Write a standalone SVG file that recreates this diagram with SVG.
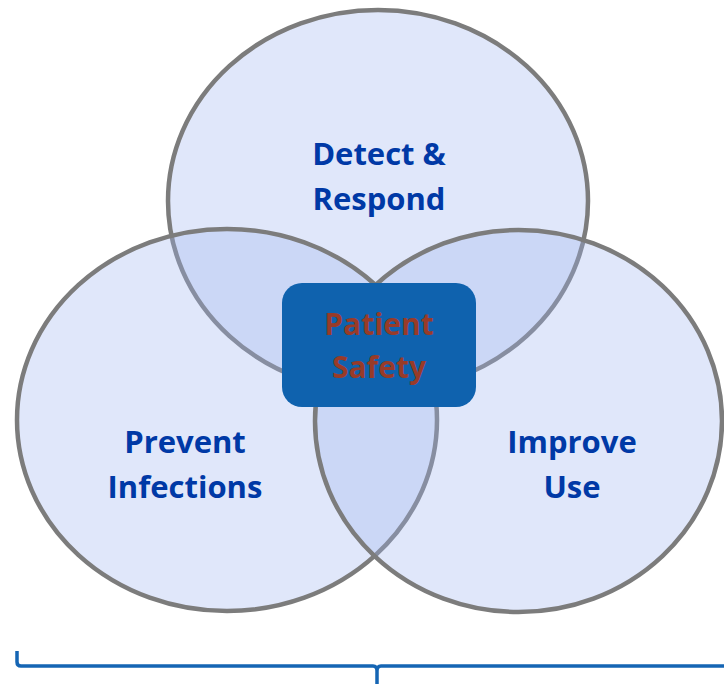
<svg xmlns="http://www.w3.org/2000/svg" width="724" height="684" viewBox="0 0 724 684">
<style>
.circ{fill:#9FB4EF;fill-opacity:0.32;stroke:#7C7C7C;stroke-width:4.5}
.lbl{font-family:"Open Sans","Liberation Sans",sans-serif;font-weight:bold;font-size:31px;fill:#0039A6;text-anchor:middle}
.ctr{font-family:"Open Sans","Liberation Sans",sans-serif;font-weight:bold;font-size:30px;fill:#983B29;text-anchor:middle}
.brace{fill:none;stroke:#1565B4;stroke-width:3.5;stroke-linejoin:round}
</style>
<rect width="724" height="684" fill="#FFFFFF"/>
<g id="detect-respond">
<ellipse class="circ" cx="378" cy="201" rx="210" ry="191"/>
<text class="lbl" x="379" y="165">Detect &amp;</text>
<text class="lbl" x="379" y="210">Respond</text>
</g>
<g id="prevent-infections">
<ellipse class="circ" cx="227" cy="420" rx="210" ry="191"/>
<text class="lbl" x="185" y="453">Prevent</text>
<text class="lbl" x="185" y="498">Infections</text>
</g>
<g id="improve-use">
<ellipse class="circ" cx="518.5" cy="421" rx="203.5" ry="191"/>
<text class="lbl" x="572" y="453">Improve</text>
<text class="lbl" x="572" y="498">Use</text>
</g>
<g id="patient-safety">
<rect x="282" y="283" width="194" height="124" rx="20" ry="20" fill="#0F62AE"/>
<text class="ctr" x="379" y="335">Patient</text>
<text class="ctr" x="379" y="378">Safety</text>
</g>
<g id="connectors">
<path class="brace" d="M17,651 L17,662 Q17,666 21,666 L373,666 Q377,666 377,671 L377,684 M377,671 Q377,666 381,666 L726,666"/>
</g>
</svg>
